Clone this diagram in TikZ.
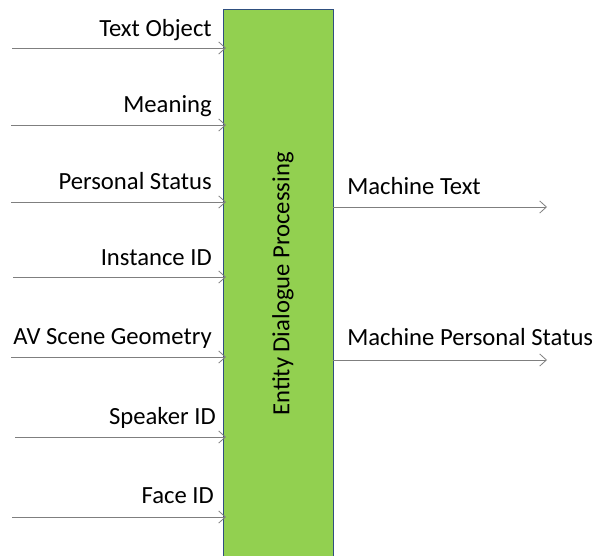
\documentclass[tikz,border=0pt]{standalone}
\usepackage{fontspec}
\setmainfont{Carlito}
\usetikzlibrary{arrows.meta}
\definecolor{boxgreen}{HTML}{92D050}
\definecolor{boxedge}{HTML}{2F4F7F}
\definecolor{wire}{HTML}{7F7F7F}
\tikzset{
  procbox/.style={draw=boxedge, line width=0.6pt, fill=boxgreen},
  flow/.style={draw=wire, line width=0.7pt, -{Straight Barb[length=5pt,width=9pt,line width=0.6pt]}},
  txt/.style={font=\fontsize{18.5pt}{20pt}\selectfont, inner sep=0pt},
  lbl/.style={txt, anchor=base east},
  rlbl/.style={txt, anchor=base west}
}
\begin{document}
\begin{tikzpicture}[x=0.75pt,y=-0.75pt]
\useasboundingbox (0,0) rectangle (596,556);
% processing block
\draw[procbox] (223,9) rectangle (333,562);
\coordinate (boxc) at (283,284);
\node[rotate=90, txt] (proc) at (boxc) {Entity Dialogue Processing};
% inputs: name / label / line y / line start x / label right edge / label gap
\foreach \name/\lab/\y/\x/\r/\g in {ti/Text Object/48/12/212/11, mn/Meaning/125/11/212/12, ps/Personal Status/202/11/212/12, ii/Instance ID/277/13/212/12, av/AV Scene Geometry/357/11/212/13, sp/Speaker ID/437/15/216/13, fi/Face ID/517/12/214/14}{
  \coordinate (\name-s) at (\x,\y);
  \coordinate (\name-e) at (226,\y);
  \draw[flow] (\name-s) -- (\name-e);
  \node[lbl] (\name-l) at (\r,\y-\g) {\lab};
}
% outputs
\foreach \name/\lab/\y/\g in {mt/Machine Text/207/12, mp/Machine Personal Status/360/15}{
  \coordinate (\name-s) at (333,\y);
  \coordinate (\name-e) at (547,\y);
  \draw[flow] (\name-s) -- (\name-e);
  \node[rlbl] (\name-l) at (347,\y-\g) {\lab};
}
\end{tikzpicture}
\end{document}
